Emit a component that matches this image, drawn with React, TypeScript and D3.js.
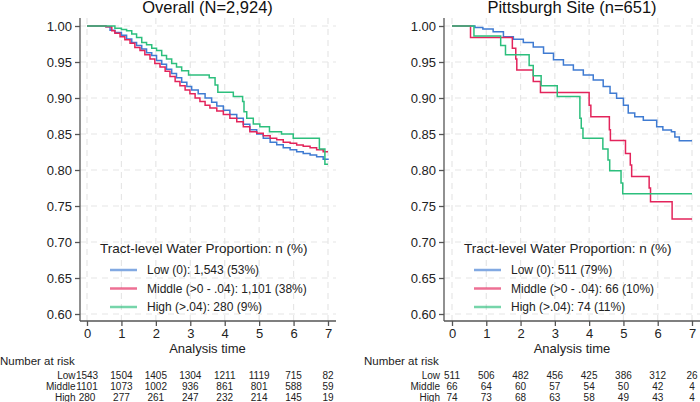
import React, { useEffect, useRef } from "react";
import * as d3 from "d3";

type Pt = [number, number];

const timeTicks = [0, 1, 2, 3, 4, 5, 6, 7];
const survTicks = [0.6, 0.65, 0.7, 0.75, 0.8, 0.85, 0.9, 0.95, 1.0];
const groups = ["Low", "Middle", "High"];
const colors = ["#3f7bd2", "#e3245b", "#2cbf7d"];

const overallTitle = "Overall (N=2,924)";
const pittTitle = "Pittsburgh Site (n=651)";
const legendTitle = "Tract-level Water Proportion: n (%)";
const overallLegend = [
  "Low (0): 1,543 (53%)",
  "Middle (>0 - .04): 1,101 (38%)",
  "High (>.04): 280 (9%)",
];
const pittLegend = [
  "Low (0): 511 (79%)",
  "Middle (>0 - .04): 66 (10%)",
  "High (>.04): 74 (11%)",
];

// number at risk
const overallRiskLow = [1543, 1504, 1405, 1304, 1211, 1119, 715, 82];
const overallRiskMid = [1101, 1073, 1002, 936, 861, 801, 588, 59];
const overallRiskHigh = [280, 277, 261, 247, 232, 214, 145, 19];
const pittRiskLow = [511, 506, 482, 456, 425, 386, 312, 26];
const pittRiskMid = [66, 64, 60, 57, 54, 50, 42, 4];
const pittRiskHigh = [74, 73, 68, 63, 58, 49, 43, 4];

// Kaplan-Meier steps (time, survival)
const overallLow: Pt[] = [
  [0, 1], [0.55, 0.999], [0.67, 0.994], [0.81, 0.991], [1.0, 0.987], [1.15, 0.982],
  [1.3, 0.977], [1.44, 0.973], [1.59, 0.968], [1.73, 0.963], [1.88, 0.959], [2.02, 0.952],
  [2.17, 0.947], [2.31, 0.94], [2.46, 0.934], [2.6, 0.928], [2.75, 0.922], [2.9, 0.916],
  [3.04, 0.911], [3.23, 0.906], [3.43, 0.9], [3.62, 0.894], [3.77, 0.889], [3.96, 0.883],
  [4.15, 0.877], [4.35, 0.872], [4.54, 0.8635], [4.73, 0.856], [4.93, 0.85], [5.12, 0.844],
  [5.32, 0.8385], [5.51, 0.835], [5.7, 0.831], [5.9, 0.828], [6.09, 0.8255], [6.28, 0.823],
  [6.48, 0.821], [6.67, 0.8185], [6.86, 0.815], [7, 0.814],
];
const overallMid: Pt[] = [
  [0, 1], [0.55, 0.999], [0.72, 0.9935], [0.81, 0.99], [0.96, 0.985], [1.1, 0.981],
  [1.25, 0.976], [1.39, 0.97], [1.54, 0.966], [1.68, 0.96], [1.83, 0.954], [1.97, 0.948],
  [2.12, 0.943], [2.27, 0.937], [2.41, 0.93], [2.56, 0.923], [2.7, 0.917], [2.85, 0.911],
  [2.99, 0.906], [3.14, 0.9], [3.28, 0.895], [3.43, 0.89], [3.57, 0.886], [3.77, 0.882],
  [3.96, 0.877], [4.15, 0.872], [4.35, 0.867], [4.54, 0.86], [4.73, 0.853], [4.93, 0.851],
  [5.12, 0.8476], [5.32, 0.844], [5.51, 0.842], [5.7, 0.8385], [5.9, 0.837], [6.09, 0.8347],
  [6.28, 0.833], [6.48, 0.831], [6.67, 0.828], [6.86, 0.8255], [7, 0.8255],
];
const overallHigh: Pt[] = [
  [0, 1], [0.81, 0.997], [1.0, 0.995], [1.15, 0.9935], [1.3, 0.989], [1.44, 0.984],
  [1.59, 0.977], [1.73, 0.974], [1.88, 0.969], [2.02, 0.966], [2.17, 0.959], [2.31, 0.954],
  [2.46, 0.948], [2.6, 0.943], [2.75, 0.938], [2.95, 0.932], [3.55, 0.928], [3.72, 0.918],
  [3.8, 0.908], [4.25, 0.902], [4.52, 0.895], [4.56, 0.881], [4.64, 0.872], [4.83, 0.864],
  [5.02, 0.86], [5.3, 0.853], [5.65, 0.85], [5.99, 0.844], [6.75, 0.829], [6.91, 0.808],
  [7, 0.808],
];
const pittLow: Pt[] = [
  [0, 1], [0.67, 0.998], [0.9, 0.996], [1.2, 0.992], [1.5, 0.985], [1.79, 0.9815],
  [2.08, 0.977], [2.37, 0.971], [2.67, 0.962], [2.96, 0.953], [3.25, 0.946], [3.54, 0.939],
  [3.83, 0.932], [4.12, 0.925], [4.41, 0.916], [4.61, 0.9065], [4.8, 0.8995], [5.0, 0.89],
  [5.14, 0.879], [5.33, 0.874], [5.58, 0.869], [5.97, 0.86], [6.15, 0.8556], [6.4, 0.853],
  [6.5, 0.846], [6.63, 0.8407], [7, 0.8407],
];
const pittMid: Pt[] = [
  [0, 1], [0.54, 0.984], [1.76, 0.969], [1.86, 0.954], [1.89, 0.939], [2.37, 0.923],
  [2.58, 0.9075], [4.0, 0.89], [4.05, 0.874], [4.59, 0.856], [4.62, 0.841], [5.06, 0.823],
  [5.2, 0.807], [5.24, 0.791], [5.75, 0.775], [5.79, 0.756], [6.42, 0.732], [7, 0.732],
];
const pittHigh: Pt[] = [
  [0, 1], [0.64, 0.986], [1.42, 0.973], [1.56, 0.96], [2.25, 0.945], [2.37, 0.931],
  [2.6, 0.917], [3.07, 0.902], [3.73, 0.872], [3.77, 0.858], [3.82, 0.844], [4.4, 0.829],
  [4.55, 0.814], [4.6, 0.799], [4.93, 0.782], [4.98, 0.767], [7, 0.767],
];

type PanelDef = {
  title: string;
  curves: Pt[][];
  legend: string[];
  risk: number[][];
  axisX: number;
  x0: number;
  x7: number;
  right: number;
  legendX: number;
  riskTitleX: number;
  riskLabelX: number;
};

const panels: PanelDef[] = [
  {
    title: overallTitle,
    curves: [overallLow, overallMid, overallHigh],
    legend: overallLegend,
    risk: [overallRiskLow, overallRiskMid, overallRiskHigh],
    axisX: 80, x0: 87, x7: 328, right: 336,
    legendX: 100, riskTitleX: 0, riskLabelX: 75.5,
  },
  {
    title: pittTitle,
    curves: [pittLow, pittMid, pittHigh],
    legend: pittLegend,
    risk: [pittRiskLow, pittRiskMid, pittRiskHigh],
    axisX: 444, x0: 452, x7: 692, right: 700,
    legendX: 464, riskTitleX: 364, riskLabelX: 440,
  },
];

const FONT = "'Liberation Sans', Arial, Helvetica, sans-serif";

const App: React.FC = () => {
  const ref = useRef<SVGSVGElement | null>(null);

  useEffect(() => {
    if (!ref.current) return;
    const svg = d3.select(ref.current);
    svg.selectAll("*").remove();

    const top = 18;
    const bottom = 321;

    panels.forEach((p) => {
      const g = svg.append("g");
      const x = d3.scaleLinear().domain([0, 7]).range([p.x0, p.x7]);
      const y = d3.scaleLinear().domain([0.6, 1.0]).range([314, 26]);

      // grid
      g.append("g")
        .selectAll("line")
        .data(timeTicks)
        .join("line")
        .attr("x1", (d) => x(d))
        .attr("x2", (d) => x(d))
        .attr("y1", top)
        .attr("y2", bottom)
        .attr("stroke", "#e6e6e6")
        .attr("stroke-width", 1.2)
        .attr("stroke-dasharray", "6,5");
      g.append("g")
        .selectAll("line")
        .data(survTicks)
        .join("line")
        .attr("x1", p.axisX)
        .attr("x2", p.right)
        .attr("y1", (d) => y(d))
        .attr("y2", (d) => y(d))
        .attr("stroke", "#e6e6e6")
        .attr("stroke-width", 1.2)
        .attr("stroke-dasharray", "6,5");

      // curves
      const line = d3
        .line<Pt>()
        .x((d) => x(d[0]))
        .y((d) => y(d[1]))
        .curve(d3.curveStepAfter);
      p.curves.forEach((c, i) => {
        g.append("path")
          .attr("d", line(c)!)
          .attr("fill", "none")
          .attr("stroke", colors[i])
          .attr("stroke-width", 1.5);
      });

      // axes
      const yAxis = g
        .append("g")
        .attr("transform", `translate(${p.axisX},0)`)
        .call(
          d3.axisLeft(y).tickValues(survTicks).tickSize(5).tickPadding(3)
            .tickFormat((d) => d3.format(".2f")(d as number))
        );
      yAxis.select(".domain").attr("d", `M0,${top}V${bottom}`);
      const xAxis = g
        .append("g")
        .attr("transform", `translate(0,${bottom})`)
        .call(d3.axisBottom(x).tickValues(timeTicks).tickSize(5).tickPadding(3)
          .tickFormat((d) => String(d)));
      xAxis.select(".domain").attr("d", `M${p.axisX},0H${p.right}`);
      [yAxis, xAxis].forEach((a) => {
        a.selectAll("path,line").attr("stroke", "#555").attr("stroke-width", 1.3);
        a.selectAll("text")
          .attr("font-family", FONT)
          .attr("font-size", 13)
          .attr("fill", "#222");
      });

      const cx = (p.x0 + p.x7) / 2;
      g.append("text")
        .attr("x", cx)
        .attr("y", 353)
        .attr("text-anchor", "middle")
        .attr("font-family", FONT)
        .attr("font-size", 13)
        .attr("fill", "#222")
        .text("Analysis time");

      g.append("text")
        .attr("x", cx)
        .attr("y", 12.5)
        .attr("text-anchor", "middle")
        .attr("font-family", FONT)
        .attr("font-size", 16.5)
        .attr("fill", "#111")
        .text(p.title);

      // legend
      g.append("text")
        .attr("x", p.legendX)
        .attr("y", 253)
        .attr("font-family", FONT)
        .attr("font-size", 13.5)
        .attr("fill", "#222")
        .text(legendTitle);
      p.legend.forEach((label, i) => {
        const ly = 270 + i * 18.5;
        g.append("line")
          .attr("x1", p.legendX + 10)
          .attr("x2", p.legendX + 37)
          .attr("y1", ly)
          .attr("y2", ly)
          .attr("stroke", colors[i])
          .attr("stroke-opacity", 0.65)
          .attr("stroke-width", 2.5);
        g.append("text")
          .attr("x", p.legendX + 47)
          .attr("y", ly + 4)
          .attr("font-family", FONT)
          .attr("font-size", 12)
          .attr("fill", "#222")
          .text(label);
      });

      // number at risk
      g.append("text")
        .attr("x", p.riskTitleX)
        .attr("y", 365)
        .attr("font-family", FONT)
        .attr("font-size", 11.5)
        .attr("fill", "#222")
        .text("Number at risk");
      p.risk.forEach((row, i) => {
        const ry = 379 + i * 10.8;
        g.append("text")
          .attr("x", p.riskLabelX)
          .attr("y", ry)
          .attr("text-anchor", "end")
          .attr("font-family", FONT)
          .attr("font-size", 10)
          .attr("fill", "#222")
          .text(groups[i]);
        g.append("g")
          .selectAll("text")
          .data(row)
          .join("text")
          .attr("x", (_, j) => x(timeTicks[j]))
          .attr("y", ry)
          .attr("text-anchor", "middle")
          .attr("font-family", FONT)
          .attr("font-size", 10)
          .attr("fill", "#222")
          .text((d) => d);
      });
    });
  }, []);

  return (
    <svg
      ref={ref}
      width={700}
      height={402}
      style={{ position: "absolute", left: 0, top: 0, background: "#fff" }}
    ></svg>
  );
};

export default App;
